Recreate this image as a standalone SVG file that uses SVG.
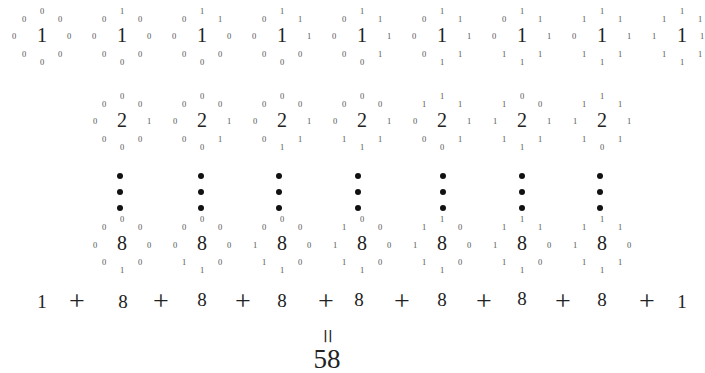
<svg xmlns="http://www.w3.org/2000/svg" width="705" height="373" viewBox="0 0 705 373">
<style>
text{font-family:"Liberation Serif","Times New Roman",serif;text-anchor:middle}
.b{font-size:20px;fill:#222}
.s{font-size:8.5px;fill:#555}
.e{font-size:19px;fill:#222}
.p{font-size:28px;fill:#222}
.dot{fill:#111}
</style>
<rect width="705" height="373" fill="#fff"/>
<!-- Row 1 -->
<g id="r1c1" transform="translate(42,35)"><text class="b" y="7">1</text><text class="s" y="-21">0</text><text class="s" x="-18" y="-13">0</text><text class="s" x="18" y="-13">0</text><text class="s" x="-28" y="4">0</text><text class="s" x="27" y="4">0</text><text class="s" x="-18" y="22">0</text><text class="s" x="18" y="22">0</text><text class="s" y="30">0</text></g>
<g id="r1c2" transform="translate(122,35)"><text class="b" y="7">1</text><text class="s" y="-21">1</text><text class="s" x="-18" y="-13">0</text><text class="s" x="18" y="-13">0</text><text class="s" x="-28" y="4">0</text><text class="s" x="27" y="4">0</text><text class="s" x="-18" y="22">0</text><text class="s" x="18" y="22">0</text><text class="s" y="30">0</text></g>
<g id="r1c3" transform="translate(202,35)"><text class="b" y="7">1</text><text class="s" y="-21">1</text><text class="s" x="-18" y="-13">0</text><text class="s" x="18" y="-13">1</text><text class="s" x="-28" y="4">0</text><text class="s" x="27" y="4">0</text><text class="s" x="-18" y="22">0</text><text class="s" x="18" y="22">0</text><text class="s" y="30">0</text></g>
<g id="r1c4" transform="translate(282,35)"><text class="b" y="7">1</text><text class="s" y="-21">1</text><text class="s" x="-18" y="-13">0</text><text class="s" x="18" y="-13">1</text><text class="s" x="-28" y="4">0</text><text class="s" x="27" y="4">1</text><text class="s" x="-18" y="22">0</text><text class="s" x="18" y="22">0</text><text class="s" y="30">0</text></g>
<g id="r1c5" transform="translate(362,35)"><text class="b" y="7">1</text><text class="s" y="-21">1</text><text class="s" x="-18" y="-13">0</text><text class="s" x="18" y="-13">1</text><text class="s" x="-28" y="4">0</text><text class="s" x="27" y="4">1</text><text class="s" x="-18" y="22">0</text><text class="s" x="18" y="22">1</text><text class="s" y="30">0</text></g>
<g id="r1c6" transform="translate(442,35)"><text class="b" y="7">1</text><text class="s" y="-21">1</text><text class="s" x="-18" y="-13">0</text><text class="s" x="18" y="-13">1</text><text class="s" x="-28" y="4">0</text><text class="s" x="27" y="4">1</text><text class="s" x="-18" y="22">0</text><text class="s" x="18" y="22">1</text><text class="s" y="30">1</text></g>
<g id="r1c7" transform="translate(522,35)"><text class="b" y="7">1</text><text class="s" y="-21">1</text><text class="s" x="-18" y="-13">0</text><text class="s" x="18" y="-13">1</text><text class="s" x="-28" y="4">0</text><text class="s" x="27" y="4">1</text><text class="s" x="-18" y="22">1</text><text class="s" x="18" y="22">1</text><text class="s" y="30">1</text></g>
<g id="r1c8" transform="translate(602,35)"><text class="b" y="7">1</text><text class="s" y="-21">1</text><text class="s" x="-18" y="-13">1</text><text class="s" x="18" y="-13">1</text><text class="s" x="-28" y="4">0</text><text class="s" x="27" y="4">1</text><text class="s" x="-18" y="22">1</text><text class="s" x="18" y="22">1</text><text class="s" y="30">1</text></g>
<g id="r1c9" transform="translate(682,35)"><text class="b" y="7">1</text><text class="s" y="-21">1</text><text class="s" x="-18" y="-13">1</text><text class="s" x="18" y="-13">1</text><text class="s" x="-28" y="4">1</text><text class="s" x="20" y="4">1</text><text class="s" x="-18" y="22">1</text><text class="s" x="18" y="22">1</text><text class="s" y="30">1</text></g>
<!-- Row 2 -->
<g id="r2c1" transform="translate(122,120)"><text class="b" y="7">2</text><text class="s" y="-21">0</text><text class="s" x="-18" y="-13">0</text><text class="s" x="18" y="-13">0</text><text class="s" x="-27" y="4">0</text><text class="s" x="27" y="4">1</text><text class="s" x="-18" y="22">0</text><text class="s" x="18" y="22">0</text><text class="s" y="30">0</text></g>
<g id="r2c2" transform="translate(202,120)"><text class="b" y="7">2</text><text class="s" y="-21">0</text><text class="s" x="-18" y="-13">0</text><text class="s" x="18" y="-13">0</text><text class="s" x="-27" y="4">0</text><text class="s" x="27" y="4">1</text><text class="s" x="-18" y="22">0</text><text class="s" x="18" y="22">1</text><text class="s" y="30">0</text></g>
<g id="r2c3" transform="translate(282,120)"><text class="b" y="7">2</text><text class="s" y="-21">0</text><text class="s" x="-18" y="-13">0</text><text class="s" x="18" y="-13">0</text><text class="s" x="-27" y="4">0</text><text class="s" x="27" y="4">1</text><text class="s" x="-18" y="22">0</text><text class="s" x="18" y="22">1</text><text class="s" y="30">1</text></g>
<g id="r2c4" transform="translate(362,120)"><text class="b" y="7">2</text><text class="s" y="-21">0</text><text class="s" x="-18" y="-13">0</text><text class="s" x="18" y="-13">0</text><text class="s" x="-27" y="4">0</text><text class="s" x="27" y="4">1</text><text class="s" x="-18" y="22">1</text><text class="s" x="18" y="22">1</text><text class="s" y="30">1</text></g>
<g id="r2c5" transform="translate(442,120)"><text class="b" y="7">2</text><text class="s" y="-21">1</text><text class="s" x="-18" y="-13">1</text><text class="s" x="18" y="-13">1</text><text class="s" x="-27" y="4">0</text><text class="s" x="27" y="4">1</text><text class="s" x="-18" y="22">0</text><text class="s" x="18" y="22">1</text><text class="s" y="30">0</text></g>
<g id="r2c6" transform="translate(522,120)"><text class="b" y="7">2</text><text class="s" y="-21">0</text><text class="s" x="-18" y="-13">1</text><text class="s" x="18" y="-13">0</text><text class="s" x="-27" y="4">1</text><text class="s" x="27" y="4">1</text><text class="s" x="-18" y="22">1</text><text class="s" x="18" y="22">1</text><text class="s" y="30">1</text></g>
<g id="r2c7" transform="translate(602,120)"><text class="b" y="7">2</text><text class="s" y="-21">1</text><text class="s" x="-18" y="-13">1</text><text class="s" x="18" y="-13">1</text><text class="s" x="-27" y="4">1</text><text class="s" x="27" y="4">1</text><text class="s" x="-18" y="22">1</text><text class="s" x="18" y="22">1</text><text class="s" y="30">0</text></g>
<!-- Dots -->
<g id="dots" class="dot">
<circle cx="120" cy="176" r="3"/><circle cx="120" cy="192" r="3"/><circle cx="120" cy="208" r="3"/>
<circle cx="201" cy="176" r="3"/><circle cx="201" cy="192" r="3"/><circle cx="201" cy="208" r="3"/>
<circle cx="279" cy="176" r="3"/><circle cx="279" cy="192" r="3"/><circle cx="279" cy="208" r="3"/>
<circle cx="358" cy="176" r="3"/><circle cx="358" cy="192" r="3"/><circle cx="358" cy="208" r="3"/>
<circle cx="443" cy="176" r="3"/><circle cx="443" cy="192" r="3"/><circle cx="443" cy="208" r="3"/>
<circle cx="522" cy="176" r="3"/><circle cx="522" cy="192" r="3"/><circle cx="522" cy="208" r="3"/>
<circle cx="600" cy="176" r="3"/><circle cx="600" cy="192" r="3"/><circle cx="600" cy="208" r="3"/>
</g>
<!-- Row 3 -->
<g id="r3c1" transform="translate(122,243)"><text class="b" y="7">8</text><text class="s" y="-21">0</text><text class="s" x="-18" y="-13">0</text><text class="s" x="18" y="-13">0</text><text class="s" x="-27" y="5">0</text><text class="s" x="27" y="5">0</text><text class="s" x="-18" y="22">0</text><text class="s" x="18" y="22">0</text><text class="s" y="30">1</text></g>
<g id="r3c2" transform="translate(202,243)"><text class="b" y="7">8</text><text class="s" y="-21">0</text><text class="s" x="-18" y="-13">0</text><text class="s" x="18" y="-13">0</text><text class="s" x="-27" y="5">0</text><text class="s" x="27" y="5">0</text><text class="s" x="-18" y="22">1</text><text class="s" x="18" y="22">0</text><text class="s" y="30">1</text></g>
<g id="r3c3" transform="translate(282,243)"><text class="b" y="7">8</text><text class="s" y="-21">0</text><text class="s" x="-18" y="-13">0</text><text class="s" x="18" y="-13">0</text><text class="s" x="-27" y="5">1</text><text class="s" x="27" y="5">0</text><text class="s" x="-18" y="22">1</text><text class="s" x="18" y="22">0</text><text class="s" y="30">1</text></g>
<g id="r3c4" transform="translate(362,243)"><text class="b" y="7">8</text><text class="s" y="-21">0</text><text class="s" x="-18" y="-13">1</text><text class="s" x="18" y="-13">0</text><text class="s" x="-27" y="5">1</text><text class="s" x="27" y="5">0</text><text class="s" x="-18" y="22">1</text><text class="s" x="18" y="22">0</text><text class="s" y="30">1</text></g>
<g id="r3c5" transform="translate(442,243)"><text class="b" y="7">8</text><text class="s" y="-21">1</text><text class="s" x="-18" y="-13">1</text><text class="s" x="18" y="-13">0</text><text class="s" x="-27" y="5">1</text><text class="s" x="27" y="5">0</text><text class="s" x="-18" y="22">1</text><text class="s" x="18" y="22">0</text><text class="s" y="30">1</text></g>
<g id="r3c6" transform="translate(522,243)"><text class="b" y="7">8</text><text class="s" y="-21">1</text><text class="s" x="-18" y="-13">1</text><text class="s" x="18" y="-13">1</text><text class="s" x="-27" y="5">1</text><text class="s" x="27" y="5">0</text><text class="s" x="-18" y="22">1</text><text class="s" x="18" y="22">0</text><text class="s" y="30">1</text></g>
<g id="r3c7" transform="translate(602,243)"><text class="b" y="7">8</text><text class="s" y="-21">1</text><text class="s" x="-18" y="-13">1</text><text class="s" x="18" y="-13">1</text><text class="s" x="-27" y="5">1</text><text class="s" x="27" y="5">0</text><text class="s" x="-18" y="22">1</text><text class="s" x="18" y="22">1</text><text class="s" y="30">1</text></g>
<!-- Sum -->
<g id="sum">
<text class="e" x="42" y="308">1</text>
<text class="p" x="77" y="310">+</text>
<text class="e" x="123" y="308">8</text>
<text class="p" x="161" y="310">+</text>
<text class="e" x="202" y="306">8</text>
<text class="p" x="243" y="310">+</text>
<text class="e" x="282" y="307">8</text>
<text class="p" x="326" y="310">+</text>
<text class="e" x="359" y="306">8</text>
<text class="p" x="402" y="310">+</text>
<text class="e" x="442" y="306">8</text>
<text class="p" x="484" y="310">+</text>
<text class="e" x="522" y="305">8</text>
<text class="p" x="563" y="310">+</text>
<text class="e" x="602" y="306">8</text>
<text class="p" x="647" y="310">+</text>
<text class="e" x="682" y="308">1</text>
<text class="p" transform="translate(326,336) rotate(90)" x="0" y="7" style="font-size:26px">=</text>
<text x="327" y="368" style="font-size:27px;fill:#222">58</text>
</g>
</svg>
